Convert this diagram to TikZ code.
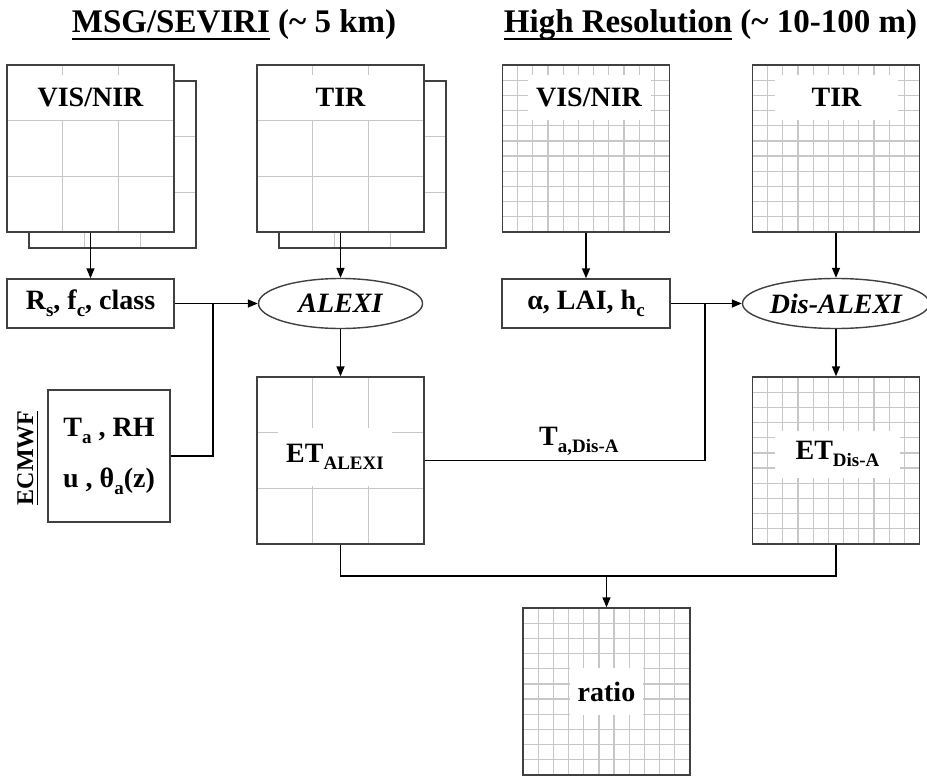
\documentclass[tikz,border=0pt]{standalone}
\usepackage{fontspec}
\setmainfont{Liberation Serif}
\usetikzlibrary{arrows.meta,shapes.geometric,calc}
\newcommand\lsub[1]{\raisebox{-7pt}{\fontsize{19}{19}\selectfont #1}}
\newsavebox\ulbox
\newcommand\uln[1]{\sbox\ulbox{#1}\rlap{\rule[-0.2em]{\wd\ulbox}{0.045em}}\usebox\ulbox}
\tikzset{
  boxline/.style={draw=black!75, line width=1.4pt},
  gridline/.style={draw=black!22, line width=1.2pt},
  grid/.style={path picture={
    \foreach \i in {1,...,#1}{
      \pgfmathsetmacro\gf{\i/(#1+1)}
      \draw[gridline] ($(path picture bounding box.north west)!\gf!(path picture bounding box.north east)$) -- ($(path picture bounding box.south west)!\gf!(path picture bounding box.south east)$);
      \draw[gridline] ($(path picture bounding box.north west)!\gf!(path picture bounding box.south west)$) -- ($(path picture bounding box.north east)!\gf!(path picture bounding box.south east)$);
    }}},
  gridbox/.style={rectangle, boxline, fill=white, minimum width=167pt, minimum height=167pt, inner sep=0pt},
  whitelbl/.style={fill=white, inner sep=0pt, minimum height=45pt, minimum width=123pt},
  textbox/.style={rectangle, boxline, inner sep=0pt, minimum height=49pt},
  oval/.style={ellipse, boxline, minimum width=164pt, minimum height=50pt, inner sep=0pt, font=\fontsize{28}{34}\selectfont\bfseries\itshape},
  conn/.style={line width=1.4pt, draw=black},
  arr/.style={conn, -{Triangle[length=10pt,width=8pt]}},
  header/.style={font=\fontsize{33}{40}\selectfont\bfseries, anchor=base, inner sep=0pt}
}
\begin{document}
\begin{tikzpicture}[x=1pt, y=-1pt, font=\fontsize{28}{34}\selectfont\bfseries]
\useasboundingbox (0,0) rectangle (927,776);

% headers
\node[header] (h1) at (234,33) {\uln{MSG/SEVIRI} (\textasciitilde{} 5 km)};
\node[header] (h2) at (710.5,33) {\uln{High Resolution} (\textasciitilde{} 10-100 m)};

% MSG/SEVIRI input stacks
\node[gridbox, grid=2] (visnirB) at (112.5,164.5) {};
\node[gridbox, grid=2] (visnirF) at (90.5,148.5) {};
\node[whitelbl] (visnirT) at (90.5,97.5) {VIS/NIR};

\node[gridbox, grid=2] (tirB) at (362.5,164.5) {};
\node[gridbox, grid=2] (tirF) at (340.5,148.5) {};
\node[whitelbl] (tirT) at (340.5,97.5) {TIR};

% High resolution inputs
\node[gridbox, grid=10] (visnirH) at (586,148.5) {};
\node[whitelbl] (visnirHT) at (589,97.5) {VIS/NIR};
\node[gridbox, grid=10] (tirH) at (836,148.5) {};
\node[whitelbl] (tirHT) at (836.5,97.5) {TIR};

% parameter boxes
\node[textbox, minimum width=167pt] (rsbox) at (90.5,303.5) {R\lsub{s}, f\lsub{c}, class};
\node[textbox, minimum width=168pt] (albox) at (586,303.5) {α, LAI, h\lsub{c}};
\node[oval] (alexi) at (340.5,303.5) {ALEXI};
\node[oval] (disalexi) at (836,303.5) {Dis-ALEXI};

% ECMWF
\node[rectangle, boxline, minimum width=122pt, minimum height=132pt, inner sep=0pt, align=center, font=\fontsize{28}{51}\selectfont\bfseries] (ecmwf) at (109,456) {T\lsub{a} , RH\\u , θ\lsub{a}(z)};
\node[font=\fontsize{24}{28}\selectfont\bfseries, rotate=90, anchor=base, inner sep=0pt] (ecmwflbl) at (33,458) {\uln{ECMWF}};

% outputs
\node[gridbox, grid=2] (etalexi) at (340.5,460.5) {};
\node[whitelbl, minimum width=114pt, minimum height=58pt] (etalexiT) at (335,457) {ET\lsub{ALEXI}};
\node[gridbox, grid=10] (etdisa) at (836,460.5) {};
\node[whitelbl, minimum width=125pt, minimum height=47pt] (etdisaT) at (837.5,454) {ET\lsub{Dis-A}};
\node[gridbox, grid=10] (ratio) at (606.5,691.5) {};
\node[whitelbl, minimum width=73pt, minimum height=47pt] (ratioT) at (606.5,691.5) {ratio};

% connectors
\draw[arr] (visnirF.south) -- (rsbox.north);
\draw[arr] (tirF.south) -- (alexi.north);
\draw[arr] (rsbox.east) -- (alexi.west);
\coordinate (j1) at (213,303.5);
\draw[conn] (ecmwf.east) -| (j1);
\draw[arr] (alexi.south) -- (etalexi.north);

\draw[arr] (visnirH.south) -- (albox.north);
\draw[arr] (tirH.south) -- (disalexi.north);
\draw[arr] (albox.east) -- (disalexi.west);
\coordinate (j2) at (705,303.5);
\draw[conn] (etalexi.east) -- (etalexi.east -| j2) node[pos=0.55, anchor=base, yshift=15pt, inner sep=0pt] (tlbl) {T\lsub{a,Dis-A}} -- (j2);
\draw[arr] (disalexi.south) -- (etdisa.north);

\coordinate (j3) at (606.5,576);
\draw[conn] (etalexi.south) |- (j3) -| (etdisa.south);
\draw[arr] (j3) -- (ratio.north);
\end{tikzpicture}
\end{document}
